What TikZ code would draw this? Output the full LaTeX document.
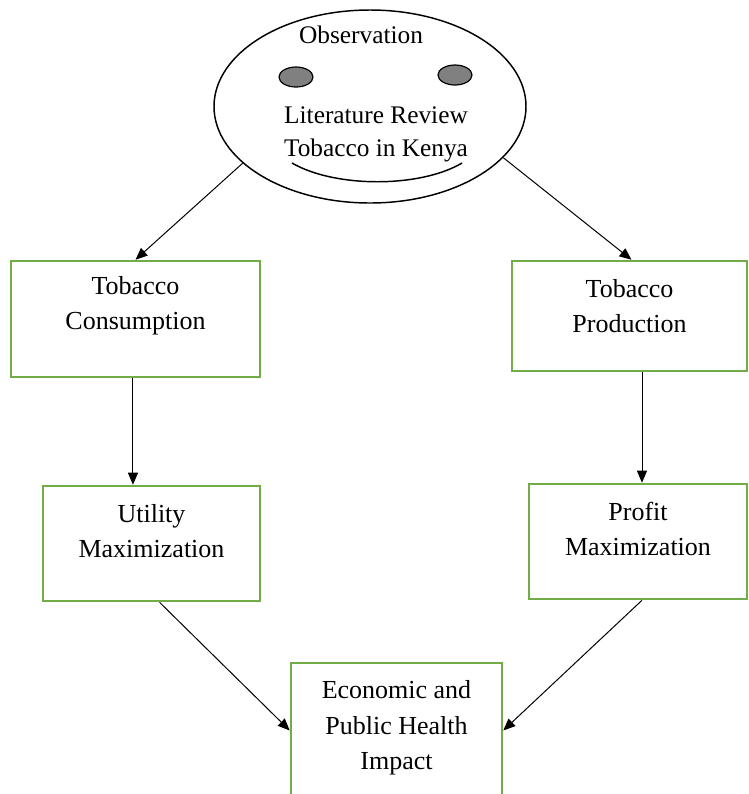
\documentclass[tikz,border=0pt]{standalone}
\usepackage{fontspec}
\setmainfont{Liberation Serif}
\usetikzlibrary{arrows.meta,shapes.geometric}
\definecolor{boxgreen}{RGB}{112,173,71}
\definecolor{eyegray}{RGB}{128,128,128}
\begin{document}
\begin{tikzpicture}[x=0.75pt,y=-0.75pt,
  stepbox/.style={draw=boxgreen,line width=1.9pt,fill=white,inner sep=0pt},
  boxtext/.style={align=center,font=\fontsize{19.5}{26.5}\selectfont,inner sep=0pt},
  facetext/.style={font=\fontsize{19}{24}\selectfont,inner sep=0pt,anchor=base},
  eye/.style={ellipse,draw,line width=0.9pt,fill=eyegray,minimum width=25.5pt,minimum height=15pt,inner sep=0pt},
  link/.style={-{Triangle[length=9pt,width=7.5pt]},line width=0.75pt}]
\useasboundingbox (0,0) rectangle (749,794);
\clip (0,0) rectangle (749,794);

% the face: head, eyes, smile and its texts
\node[ellipse,draw,line width=1.1pt,minimum width=234pt,minimum height=144.75pt,inner sep=0pt] (obs) at (370,106.5) {};
\node[eye] (lefteye) at (296,77) {};
\node[eye] (righteye) at (455,75) {};
\draw[line width=1.1pt] (292,163) .. controls (335,188) and (420,188) .. (462,163);
\node[facetext] (obstext) at (361,43) {Observation};
\node[facetext] (littext) at (376,123) {Literature Review};
\node[facetext] (kentext) at (376,156) {Tobacco in Kenya};

% green boxes
\node[stepbox,minimum width=186.75pt,minimum height=87pt] (tc) at (135.5,319) {};
\node[stepbox,minimum width=176.25pt,minimum height=82.5pt] (tp) at (629.5,316) {};
\node[stepbox,minimum width=162.75pt,minimum height=86.25pt] (um) at (151.5,543.5) {};
\node[stepbox,minimum width=163.5pt,minimum height=86.25pt] (pm) at (638,541.5) {};
\node[stepbox,minimum width=158.25pt,minimum height=101.25pt] (ep) at (396.5,730.5) {};

% box captions
\node[boxtext] (tctext) at (135.5,306) {Tobacco\\Consumption};
\node[boxtext] (tptext) at (629.5,306) {Tobacco\\Production};
\node[boxtext] (umtext) at (151.5,531) {Utility\\Maximization};
\node[boxtext] (pmtext) at (638,529) {Profit\\Maximization};
\node[boxtext] (eptext) at (396.5,728) {Economic and\\Public Health\\Impact};

% connectors
\draw[link] (obs.204) -- (tc.north);
\draw[link] (obs.339) -- ([xshift=1.5pt]tp.north);
\draw[link] ([xshift=-1.9pt]tc.south) -- ([xshift=-1.9pt]tc.south |- um.north);
\draw[link] ([xshift=3pt]tp.south -| pm.north) -- ([xshift=3pt]pm.north);
\draw[link] ([xshift=6pt]um.south) -- (ep.west);
\draw[link] ([xshift=3pt]pm.south) -- (ep.east);
\end{tikzpicture}
\end{document}
